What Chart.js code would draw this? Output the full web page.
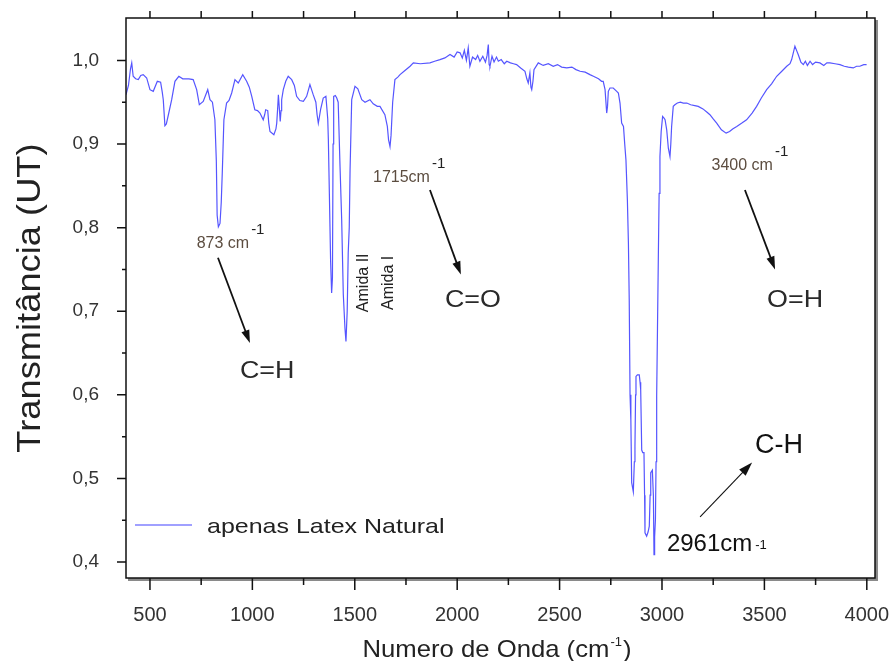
<!DOCTYPE html>
<html lang="pt">
<head>
<meta charset="UTF-8">
<title>Espectro FTIR - Latex Natural</title>
<script src="https://cdn.jsdelivr.net/npm/chart.js"></script>
<style>
  html, body { margin: 0; padding: 0; background: #fff; }
  #wrap { width: 891px; height: 661px; }
</style>
</head>
<body>
<div id="wrap"><canvas id="ftir"></canvas></div>
<script>
// spectrum (cm-1 / transmittance)
const wavenumber = [
  383, 395, 405, 411, 418, 430, 443, 455, 467, 484, 500, 516, 536, 552, 560, 565, 573, 580, 590, 606,
  622, 641, 660, 690, 711, 728, 741, 760, 782, 793, 805, 817, 824, 828, 834, 842, 848, 853, 861, 874,
  886, 899, 915, 931, 953, 972, 985, 997, 1012, 1025, 1037, 1053, 1060, 1065, 1075, 1080, 1086, 1105, 1115, 1119,
  1124, 1127, 1131, 1136, 1140, 1143, 1151, 1163, 1175, 1192, 1205, 1216, 1232, 1249, 1265, 1281, 1289, 1297, 1310, 1316,
  1322, 1327, 1333, 1346, 1359, 1368, 1371, 1376, 1382, 1387, 1391, 1394, 1397, 1405, 1412, 1419, 1428, 1436, 1444, 1452,
  1457, 1463, 1468, 1473, 1477, 1485, 1501, 1515, 1534, 1550, 1574, 1590, 1610, 1623, 1647, 1659, 1665, 1672, 1677, 1685,
  1696, 1710, 1721, 1745, 1770, 1786, 1820, 1867, 1890, 1916, 1940, 1965, 1985, 2000, 2014, 2025, 2035, 2045, 2054, 2062,
  2075, 2090, 2100, 2111, 2125, 2138, 2146, 2152, 2156, 2160, 2170, 2180, 2192, 2201, 2215, 2230, 2242, 2260, 2275, 2290,
  2310, 2331, 2340, 2347, 2355, 2360, 2364, 2370, 2375, 2396, 2420, 2445, 2469, 2490, 2510, 2535, 2560, 2580, 2600, 2625,
  2648, 2665, 2690, 2705, 2713, 2722, 2730, 2734, 2738, 2746, 2762, 2779, 2787, 2795, 2803, 2812, 2818, 2824, 2831, 2836,
  2840, 2844, 2848, 2852, 2860, 2865, 2868, 2871, 2873, 2880, 2889, 2893, 2896, 2901, 2906, 2912, 2915, 2917, 2925, 2932,
  2938, 2942, 2945, 2953, 2958, 2961, 2964, 2968, 2971, 2974, 2978, 2982, 2986, 2990, 2996, 3003, 3010, 3015, 3023, 3031,
  3039, 3043, 3047, 3055, 3063, 3075, 3090, 3104, 3121, 3140, 3160, 3177, 3200, 3220, 3234, 3250, 3267, 3290, 3313, 3330,
  3345, 3365, 3390, 3413, 3440, 3462, 3485, 3511, 3535, 3560, 3585, 3609, 3625, 3633, 3642, 3649, 3657, 3665, 3678, 3690,
  3700, 3710, 3723, 3735, 3750, 3771, 3790, 3805, 3820, 3845, 3869, 3890, 3910, 3934, 3950, 3966, 3985, 3999
];
const transmittance = [
  0.959, 0.970, 0.990, 0.997, 0.981, 0.978, 0.977, 0.982, 0.983, 0.979, 0.965, 0.963, 0.975, 0.974, 0.962, 0.953, 0.922, 0.924, 0.935, 0.953,
  0.975, 0.981, 0.978, 0.978, 0.977, 0.965, 0.947, 0.951, 0.965, 0.953, 0.950, 0.929, 0.880, 0.815, 0.801, 0.805, 0.830, 0.865, 0.929, 0.949,
  0.952, 0.961, 0.977, 0.973, 0.983, 0.975, 0.968, 0.957, 0.941, 0.940, 0.937, 0.929, 0.935, 0.941, 0.940, 0.925, 0.915, 0.911, 0.918, 0.925,
  0.945, 0.959, 0.945, 0.927, 0.940, 0.953, 0.965, 0.975, 0.981, 0.977, 0.970, 0.957, 0.952, 0.951, 0.957, 0.971, 0.965, 0.959, 0.950, 0.935,
  0.925, 0.932, 0.941, 0.955, 0.957, 0.930, 0.905, 0.840, 0.760, 0.722, 0.740, 0.900, 0.957, 0.958, 0.955, 0.950, 0.873, 0.810, 0.720, 0.680,
  0.664, 0.700, 0.770, 0.800, 0.869, 0.953, 0.969, 0.966, 0.953, 0.950, 0.953, 0.948, 0.945, 0.945, 0.935, 0.921, 0.905, 0.897, 0.910, 0.950,
  0.977, 0.980, 0.983, 0.988, 0.993, 0.997, 0.996, 0.997, 0.999, 1.001, 1.003, 1.007, 1.004, 1.010, 1.009, 1.003, 1.012, 1.000, 1.015, 0.993,
  1.004, 1.001, 1.006, 0.999, 1.005, 0.998, 1.006, 1.019, 0.995, 0.993, 1.005, 0.998, 1.004, 0.999, 1.001, 0.996, 0.999, 0.997, 0.996, 0.995,
  0.991, 0.987, 0.978, 0.973, 0.985, 0.968, 0.965, 0.975, 0.989, 0.997, 0.994, 0.996, 0.993, 0.995, 0.992, 0.991, 0.992, 0.989, 0.987, 0.986,
  0.983, 0.981, 0.978, 0.975, 0.975, 0.965, 0.937, 0.945, 0.963, 0.967, 0.967, 0.963, 0.961, 0.949, 0.925, 0.921, 0.900, 0.881, 0.833, 0.782,
  0.714, 0.600, 0.570, 0.495, 0.484, 0.520, 0.538, 0.600, 0.622, 0.624, 0.624, 0.615, 0.606, 0.534, 0.531, 0.531, 0.480, 0.435, 0.431, 0.436,
  0.443, 0.480, 0.507, 0.510, 0.479, 0.409, 0.430, 0.451, 0.520, 0.598, 0.680, 0.762, 0.841, 0.885, 0.915, 0.933, 0.931, 0.929, 0.917, 0.895,
  0.885, 0.900, 0.921, 0.945, 0.947, 0.949, 0.950, 0.949, 0.949, 0.947, 0.946, 0.945, 0.942, 0.938, 0.935, 0.930, 0.925, 0.917, 0.913, 0.915,
  0.918, 0.921, 0.925, 0.929, 0.937, 0.945, 0.955, 0.965, 0.972, 0.981, 0.987, 0.993, 0.996, 1.001, 1.010, 1.017, 1.012, 1.007, 0.998, 0.995,
  0.999, 0.994, 0.999, 0.995, 0.998, 0.997, 0.994, 0.997, 0.997, 0.996, 0.995, 0.993, 0.992, 0.991, 0.993, 0.993, 0.995, 0.995
];
const seriesName = 'apenas Latex Natural';

const xTicks = [500, 1000, 1500, 2000, 2500, 3000, 3500, 4000];
const xMinorTicks = [750, 1250, 1750, 2250, 2750, 3250, 3750];
const yTicks = [0.4, 0.5, 0.6, 0.7, 0.8, 0.9, 1.0];
const yMinorTicks = [0.45, 0.55, 0.65, 0.75, 0.85, 0.95];

// annotations in data units: [text, wavenumber, transmittance]
const peakNotes = [['873 cm', 728, 0.776], ['1715cm', 1589, 0.854], ['3400 cm', 3242, 0.869]];
const bondNotes = [['C=H', 939, 0.620], ['C=O', 1940, 0.705], ['O=H', 3513, 0.705]];
const amidaNotes = [['Amida II', 1545, 0.734], ['Amida I', 1667, 0.734]];
const peakArrows = [[832, 0.764, 988, 0.662], [1867, 0.845, 2018, 0.744], [3405, 0.845, 3552, 0.750]];
const chNote = ['C-H', 3454, 0.530];
const chLabel = ['2961cm', 3024, 0.4136];
const chArrow = [3186, 0.454, 3440, 0.519];

const FONT = '"Liberation Sans", Arial, Helvetica, sans-serif';

function drawText(ctx, s, x, y, size, color, sx, align) {
  ctx.save();
  ctx.font = size + 'px ' + FONT;
  ctx.fillStyle = color;
  ctx.textAlign = align || 'left';
  ctx.textBaseline = 'alphabetic';
  ctx.translate(x, y);
  ctx.scale(sx || 1, 1);
  ctx.fillText(s, 0, 0);
  const w = ctx.measureText(s).width * (sx || 1);
  ctx.restore();
  return w;
}

function drawArrow(ctx, x1, y1, x2, y2, lw, head) {
  const a = Math.atan2(y2 - y1, x2 - x1);
  const c = Math.cos(a), s = Math.sin(a);
  ctx.save();
  ctx.strokeStyle = '#111';
  ctx.fillStyle = '#111';
  ctx.lineWidth = lw;
  ctx.beginPath();
  ctx.moveTo(x1, y1);
  ctx.lineTo(x2 - c * head * 0.7, y2 - s * head * 0.7);
  ctx.stroke();
  ctx.beginPath();
  ctx.moveTo(x2, y2);
  ctx.lineTo(x2 - head * c + head * 0.32 * s, y2 - head * s - head * 0.32 * c);
  ctx.lineTo(x2 - head * c - head * 0.32 * s, y2 - head * s + head * 0.32 * c);
  ctx.closePath();
  ctx.fill();
  ctx.restore();
}

const decorations = {
  id: 'decorations',
  afterDraw(chart) {
    const { ctx, chartArea: a, scales: { x, y } } = chart;
    const px = v => x.getPixelForValue(v);
    const py = v => y.getPixelForValue(v);

    // frame, Origin style (shadow on right / bottom)
    ctx.save();
    ctx.fillStyle = '#8a8a8a';
    ctx.fillRect(a.right, a.top + 2, 3, a.bottom - a.top + 1);
    ctx.fillRect(a.left + 2, a.bottom, a.right - a.left + 1, 3);
    ctx.strokeStyle = '#111';
    ctx.lineWidth = 1.5;
    ctx.strokeRect(a.left, a.top, a.right - a.left, a.bottom - a.top);

    // ticks
    ctx.lineWidth = 1.5;
    ctx.beginPath();
    xTicks.forEach(v => {
      ctx.moveTo(px(v), a.bottom); ctx.lineTo(px(v), a.bottom + 12);
      ctx.moveTo(px(v), a.top); ctx.lineTo(px(v), a.top - 7);
    });
    xMinorTicks.forEach(v => {
      ctx.moveTo(px(v), a.bottom); ctx.lineTo(px(v), a.bottom + 7);
      ctx.moveTo(px(v), a.top); ctx.lineTo(px(v), a.top - 7);
    });
    yTicks.forEach(v => { ctx.moveTo(a.left, py(v)); ctx.lineTo(a.left - 9, py(v)); });
    yMinorTicks.forEach(v => { ctx.moveTo(a.left, py(v)); ctx.lineTo(a.left - 4, py(v)); });
    ctx.stroke();
    ctx.restore();

    // axis titles
    ctx.save();
    ctx.translate(31, 298);
    ctx.rotate(-Math.PI / 2);
    ctx.scale(1.1, 1);
    ctx.font = '33px ' + FONT;
    ctx.fillStyle = '#222';
    ctx.textAlign = 'center';
    ctx.textBaseline = 'middle';
    ctx.fillText('Transmitância (UT)', 0, 0);
    ctx.restore();

    ctx.save();
    ctx.font = '24px ' + FONT;
    const sxT = 1.07;
    const w1 = ctx.measureText('Numero de Onda (cm').width * sxT;
    ctx.font = '13px ' + FONT;
    const w2 = ctx.measureText('-1').width;
    ctx.font = '24px ' + FONT;
    const w3 = ctx.measureText(')').width * sxT;
    ctx.restore();
    let tx = 497 - (w1 + w2 + w3 + 2) / 2;
    drawText(ctx, 'Numero de Onda (cm', tx, 657, 24, '#222', sxT);
    drawText(ctx, '-1', tx + w1 + 1, 646, 13, '#222');
    drawText(ctx, ')', tx + w1 + w2 + 2, 657, 24, '#222', sxT);

    // legend
    ctx.save();
    ctx.strokeStyle = '#8080ff';
    ctx.lineWidth = 1.5;
    ctx.beginPath();
    ctx.moveTo(135, 525); ctx.lineTo(192, 525);
    ctx.stroke();
    ctx.restore();
    drawText(ctx, seriesName, 207, 533, 21, '#222', 1.19);

    // peak wavenumber labels with superscript
    peakNotes.forEach(([t, wn, tr]) => {
      const w = drawText(ctx, t, px(wn), py(tr), 16, '#5c4d40');
      drawText(ctx, '-1', px(wn) + w + 2, py(tr) - 14, 15, '#222');
    });
    bondNotes.forEach(([t, wn, tr]) => drawText(ctx, t, px(wn), py(tr), 24, '#2a2a2a', 1.12));
    amidaNotes.forEach(([t, wn, tr]) => {
      ctx.save();
      ctx.translate(px(wn), py(tr));
      ctx.rotate(-Math.PI / 2);
      ctx.font = '16px ' + FONT;
      ctx.fillStyle = '#222';
      ctx.textAlign = 'center';
      ctx.textBaseline = 'middle';
      ctx.fillText(t, 0, 0);
      ctx.restore();
    });
    peakArrows.forEach(([a1, b1, a2, b2]) => drawArrow(ctx, px(a1), py(b1), px(a2), py(b2), 1.8, 13));

    drawText(ctx, chNote[0], px(chNote[1]), py(chNote[2]), 27, '#111');
    const wc = drawText(ctx, chLabel[0], px(chLabel[1]), py(chLabel[2]), 24, '#111');
    drawText(ctx, '-1', px(chLabel[1]) + wc + 3, py(chLabel[2]) - 2, 13, '#111');
    drawArrow(ctx, px(chArrow[0]), py(chArrow[1]), px(chArrow[2]), py(chArrow[3]), 1.1, 14);
  }
};

new Chart(document.getElementById('ftir'), {
  type: 'line',
  data: {
    datasets: [{
      label: seriesName,
      data: wavenumber.map((v, i) => ({ x: v, y: transmittance[i] })),
      borderColor: 'rgb(85, 85, 255)',
      borderWidth: 1.2,
      pointRadius: 0,
      tension: 0,
      fill: false
    }]
  },
  options: {
    responsive: true,
    maintainAspectRatio: false,
    animation: false,
    devicePixelRatio: 1,
    layout: { padding: { top: 18, right: 16, left: 0, bottom: 0 } },
    plugins: { legend: { display: false }, tooltip: { enabled: false } },
    scales: {
      x: {
        type: 'linear',
        min: 383,
        max: 4040,
        afterBuildTicks: s => { s.ticks = xTicks.map(v => ({ value: v })); },
        afterFit: s => { s.height = 83; s.paddingLeft = 0; s.paddingRight = 0; },
        grid: { display: false },
        border: { display: false },
        ticks: {
          font: { family: FONT, size: 20 },
          color: '#333',
          padding: 17,
          maxRotation: 0,
          callback: v => String(v)
        }
      },
      y: {
        type: 'linear',
        min: 0.381,
        max: 1.0507,
        afterBuildTicks: s => { s.ticks = yTicks.map(v => ({ value: v })); },
        afterFit: s => { s.width = 126; s.paddingTop = 0; s.paddingBottom = 0; },
        grid: { display: false },
        border: { display: false },
        ticks: {
          font: { family: FONT, size: 19 },
          color: '#333',
          padding: 19,
          callback: v => v.toFixed(1).replace('.', ',')
        }
      }
    }
  },
  plugins: [decorations]
});
</script>
</body>
</html>
